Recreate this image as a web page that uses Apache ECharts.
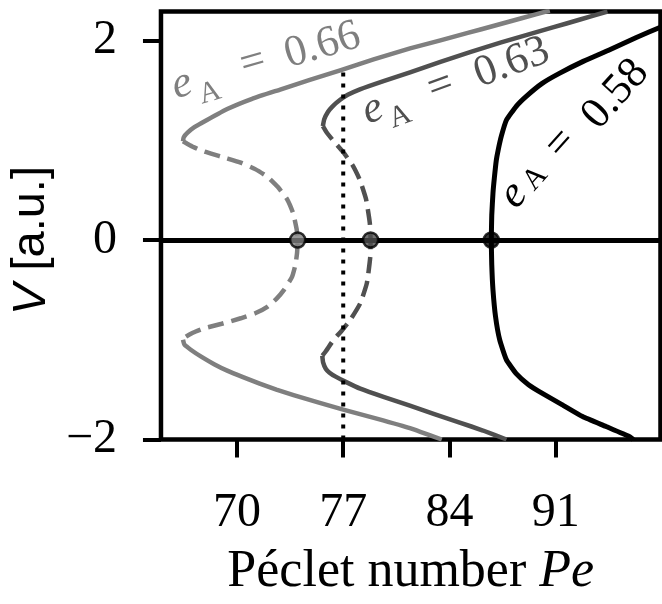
<!DOCTYPE html>
<html>
<head>
<meta charset="utf-8">
<script src="https://cdn.jsdelivr.net/npm/echarts@6/dist/echarts.min.js"></script>
<style>
  html, body { margin: 0; padding: 0; background: #ffffff; }
  #chart { width: 662px; height: 604px; }
</style>
</head>
<body>
<div id="chart"></div>
<script>
// Branches of the amplitude V versus the Péclet number for three values of eA.
// Solid = stable branch, dashed = unstable branch.

const xTicks = [70, 77, 84, 91];
const yTicks = [-2, 0, 2];
const eALabels = ['0.66', '0.63', '0.58'];

// eA = 0.66
const pe66Upper = [90.6, 88.8, 87.0, 85.2, 83.4, 81.4, 79.0, 76.8, 74.8, 72.9, 71.0, 69.4, 68.0, 67.2, 66.75, 66.5, 66.45];
const v66Upper  = [2.30, 2.225, 2.15, 2.075, 2.00, 1.92, 1.81, 1.70, 1.605, 1.51, 1.415, 1.315, 1.20, 1.13, 1.075, 1.03, 0.99];
const pe66Unstable = [66.45, 66.9, 67.6, 68.3, 69.3, 70.25, 71.2, 72.0, 72.7, 73.3, 73.7, 73.93, 74.0,
                      73.96, 73.85, 73.63, 73.1, 72.6, 72.0, 71.2, 70.25, 69.0, 67.85, 67.1, 66.63, 66.45];
const v66Unstable  = [0.99, 0.95, 0.90, 0.865, 0.82, 0.775, 0.71, 0.635, 0.53, 0.41, 0.27, 0.11, 0.0,
                      -0.13, -0.25, -0.37, -0.50, -0.59, -0.67, -0.735, -0.785, -0.84, -0.885, -0.93, -0.97, -1.0];
const pe66Lower = [66.45, 66.55, 66.96, 67.7, 68.5, 69.36, 70.4, 71.5, 72.6, 73.73, 75.4, 77.0, 79.2, 81.39, 83.49];
const v66Lower  = [-1.0, -1.05, -1.10, -1.175, -1.245, -1.31, -1.375, -1.44, -1.50, -1.555, -1.63, -1.70, -1.79, -1.885, -2.0];

// eA = 0.63
const pe63Upper = [94.4, 92.6, 90.8, 89.1, 87.4, 85.4, 83.4, 81.4, 79.7, 78.1, 77.3, 76.8, 76.3, 76.0, 75.75, 75.66];
const v63Upper  = [2.29, 2.21, 2.13, 2.055, 1.98, 1.885, 1.785, 1.68, 1.595, 1.51, 1.455, 1.405, 1.34, 1.285, 1.21, 1.14];
const pe63Unstable = [75.66, 75.9, 76.4, 77.0, 77.65, 78.1, 78.5, 78.75, 78.8,
                      78.78, 78.56, 78.12, 77.47, 76.9, 76.37, 75.83, 75.62];
const v63Unstable  = [1.14, 1.08, 0.985, 0.88, 0.74, 0.60, 0.41, 0.17, 0.0,
                      -0.17, -0.43, -0.635, -0.80, -0.91, -1.0, -1.12, -1.16];
const pe63Lower = [75.62, 75.68, 75.85, 76.1, 76.5, 77.2, 78.12, 79.7, 81.39, 83.0, 84.67, 86.2, 87.75];
const v63Lower  = [-1.16, -1.23, -1.29, -1.33, -1.37, -1.425, -1.49, -1.575, -1.66, -1.745, -1.83, -1.91, -2.0];

// eA = 0.58 (a single stable branch)
const pe58 = [98.0, 96.3, 94.51, 92.8, 91.23, 90.1, 89.05, 88.39, 87.74, 87.41, 87.2, 87.08, 86.95, 86.86, 86.78, 86.75,
              86.78, 86.86, 87.03, 87.3, 87.74, 88.39, 89.2, 90.14, 91.4, 92.76, 94.3, 95.83, 96.1];
const v58  = [2.14, 2.03, 1.905, 1.79, 1.67, 1.57, 1.44, 1.34, 1.20, 1.04, 0.90, 0.80, 0.62, 0.47, 0.25, 0.0,
              -0.25, -0.50, -0.77, -1.0, -1.20, -1.34, -1.45, -1.54, -1.65, -1.77, -1.87, -1.97, -2.0];

// Bifurcation points on V = 0
const bifPe = [74.0, 78.8, 86.75];
const bifV  = [0, 0, 0];

// Reference Péclet number
const refPe = [77, 77];
const refV  = [-2.0, 1.70];

const LIGHT = '#7f7f7f';
const DARK = '#505050';
const BLACK = '#000000';
const serif = '"Liberation Serif", "DejaVu Serif", serif';
const sans = '"Liberation Sans", "DejaVu Sans", sans-serif';

const zip = (xs, ys) => xs.map((x, i) => [x, ys[i]]);

function branch(pe, v, color, width, dashed) {
  return {
    type: 'line',
    data: zip(pe, v),
    symbol: 'none',
    showSymbol: false,
    smooth: 0.15,
    clip: true,
    silent: true,
    z: 2,
    lineStyle: { color: color, width: width, type: dashed ? [16, 8] : 'solid', cap: 'butt', join: 'round' }
  };
}

function fmtTick(v) {
  return v < 0 ? '\u2212' + Math.abs(v) : String(v);
}

// Rotated curve labels "e_A = value"
function curveLabel(value, color, angleDeg, ePos, aPos, eqPos, numPos) {
  const r = angleDeg * Math.PI / 180;
  const t = (x, y, text, font) => ({
    type: 'text', x: x, y: y, rotation: r, silent: true, z: 100,
    style: { text: text, font: font, fill: color, align: 'center', verticalAlign: 'middle' }
  });
  return [
    t(ePos[0], ePos[1], 'e', 'italic 44px ' + serif),
    t(aPos[0], aPos[1], 'A', '30px ' + serif),
    t(eqPos[0], eqPos[1], '=', '44px ' + serif),
    t(numPos[0], numPos[1], value, '44px ' + serif)
  ];
}

const chart = echarts.init(document.getElementById('chart'), null, { renderer: 'canvas' });

chart.setOption({
  animation: false,
  backgroundColor: '#ffffff',
  grid: {
    left: 159.2, right: 1.5, top: 11.5, bottom: 164.5,
    show: true, borderColor: BLACK, borderWidth: 4.5, backgroundColor: 'transparent'
  },
  xAxis: {
    type: 'value', min: 65, max: 97.89,
    axisLine: { show: false, onZero: false },
    splitLine: { show: false },
    axisTick: { show: true, inside: false, length: 18, customValues: xTicks, lineStyle: { color: BLACK, width: 4 } },
    axisLabel: { customValues: xTicks, margin: 50, color: BLACK, fontFamily: serif, fontSize: 48 },
    name: 'Péclet number {i|Pe}',
    nameLocation: 'middle',
    nameGap: 107,
    nameTextStyle: {
      color: BLACK, fontFamily: serif, fontSize: 52, lineHeight: 52,
      rich: { i: { fontStyle: 'italic', fontFamily: serif, fontSize: 52, lineHeight: 52, color: BLACK } }
    }
  },
  yAxis: {
    type: 'value', min: -2, max: 2.29,
    axisLine: { show: false, onZero: false },
    splitLine: { show: false },
    axisTick: { show: true, inside: false, length: 18, customValues: yTicks, lineStyle: { color: BLACK, width: 4 } },
    axisLabel: { customValues: yTicks, margin: 44, color: BLACK, fontFamily: serif, fontSize: 48, formatter: fmtTick },
    name: '{i|V} [a.u.]',
    nameLocation: 'middle',
    nameRotate: 90,
    nameGap: 92,
    nameTextStyle: {
      color: BLACK, fontFamily: sans, fontSize: 47, lineHeight: 47, padding: [0, 30, 0, 0],
      rich: { i: { fontStyle: 'italic', fontFamily: sans, fontSize: 47, lineHeight: 47, color: BLACK } }
    }
  },
  series: [
    branch(pe66Upper, v66Upper, LIGHT, 4.5, false),
    branch(pe66Unstable, v66Unstable, LIGHT, 4.5, true),
    branch(pe66Lower, v66Lower, LIGHT, 4.5, false),
    branch(pe63Upper, v63Upper, DARK, 4.5, false),
    branch(pe63Unstable, v63Unstable, DARK, 4.5, true),
    branch(pe63Lower, v63Lower, DARK, 4.5, false),
    branch(pe58, v58, BLACK, 5, false),
    {
      type: 'line',
      data: zip(refPe, refV),
      symbol: 'none',
      silent: true,
      z: 3,
      lineStyle: { color: BLACK, width: 4, type: [4, 7], cap: 'butt' },
      markLine: {
        silent: true,
        symbol: 'none',
        label: { show: false },
        lineStyle: { color: BLACK, width: 5, type: 'solid' },
        data: [{ yAxis: 0 }]
      }
    },
    {
      type: 'scatter',
      z: 10,
      silent: true,
      symbol: 'circle',
      symbolSize: 15,
      data: zip(bifPe, bifV).map((p, i) => ({
        value: p,
        itemStyle: { color: [LIGHT, DARK, BLACK][i], borderColor: BLACK, borderWidth: 2.5 }
      }))
    }
  ],
  graphic: [].concat(
    curveLabel(eALabels[0], LIGHT, 16, [182.0, 84.6], [210, 93.3], [253.1, 62.9], [322.5, 45.5]),
    curveLabel(eALabels[1], DARK, 20, [372.7, 109.7], [400.2, 117], [440.6, 86.7], [511.9, 62.9]),
    curveLabel(eALabels[2], BLACK, 48, [513.7, 195.1], [535.5, 178.5], [561, 143.8], [615.7, 94.3])
  )
});
</script>
</body>
</html>
